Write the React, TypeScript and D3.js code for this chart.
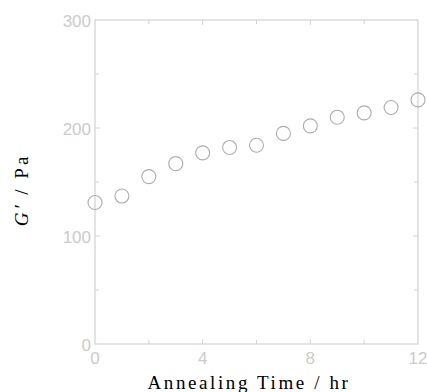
import React, { useEffect, useRef } from 'react';
import * as d3 from 'd3';

// annealing time in hours
const hours = [0, 1, 2, 3, 4, 5, 6, 7, 8, 9, 10, 11, 12];
// storage modulus G' in Pa
const modulus = [131, 137, 155, 167, 177, 182, 184, 195, 202, 210, 214, 219, 226];
const xTicks = [0, 4, 8, 12];
const yTicks = [0, 100, 200, 300];

export default function App() {
  const ref = useRef<SVGSVGElement>(null);

  useEffect(() => {
    const W = 427;
    const H = 392;
    const margin = { top: 20, right: 9, bottom: 48, left: 95 };
    const width = W - margin.left - margin.right;
    const height = H - margin.top - margin.bottom;

    const root = d3.select(ref.current);
    root.selectAll('*').remove();

    const g = root.append('g').attr('transform', `translate(${margin.left},${margin.top})`);

    const x = d3.scaleLinear().domain([0, 12]).range([0, width]);
    const y = d3.scaleLinear().domain([0, 300]).range([height, 0]);

    const axisColor = '#d2d2d2';
    const labelColor = '#cbcbcb';

    // frame
    g.append('rect')
      .attr('width', width)
      .attr('height', height)
      .attr('fill', 'none')
      .attr('stroke', axisColor)
      .attr('stroke-width', 1.2);

    // inward ticks on all four sides, every 2 hr and every 50 Pa
    const xt = d3.range(2, 12, 2);
    const yt = d3.range(50, 300, 50);
    xt.forEach((v) => {
      const len = v % 4 === 0 ? 5 : 4;
      g.append('line').attr('x1', x(v)).attr('x2', x(v)).attr('y1', height).attr('y2', height - len).attr('stroke', axisColor);
      g.append('line').attr('x1', x(v)).attr('x2', x(v)).attr('y1', 0).attr('y2', len).attr('stroke', axisColor);
    });
    yt.forEach((v) => {
      const len = v % 100 === 0 ? 5 : 4;
      g.append('line').attr('x1', 0).attr('x2', len).attr('y1', y(v)).attr('y2', y(v)).attr('stroke', axisColor);
      g.append('line').attr('x1', width).attr('x2', width - len).attr('y1', y(v)).attr('y2', y(v)).attr('stroke', axisColor);
    });

    // tick labels
    g.selectAll('.xl')
      .data(xTicks)
      .enter()
      .append('text')
      .attr('x', (d) => x(d))
      .attr('y', height + 20)
      .attr('text-anchor', 'middle')
      .attr('font-family', 'Liberation Sans, Arial, sans-serif')
      .attr('font-size', 17)
      .attr('fill', labelColor)
      .text((d) => d);

    g.selectAll('.yl')
      .data(yTicks)
      .enter()
      .append('text')
      .attr('x', -4)
      .attr('y', (d) => y(d) + 7)
      .attr('text-anchor', 'end')
      .attr('font-family', 'Liberation Sans, Arial, sans-serif')
      .attr('font-size', 17)
      .attr('fill', labelColor)
      .text((d) => d);

    // data points
    g.selectAll('.pt')
      .data(hours)
      .enter()
      .append('circle')
      .attr('cx', (d) => x(d))
      .attr('cy', (d, i) => y(modulus[i]))
      .attr('r', 7)
      .attr('fill', 'none')
      .attr('stroke', '#adadad')
      .attr('stroke-width', 1.1);

    // axis titles
    root.append('text')
      .attr('x', 249)
      .attr('y', 389)
      .attr('text-anchor', 'middle')
      .attr('font-family', 'Liberation Serif, Times New Roman, serif')
      .attr('font-size', 19)
      .attr('letter-spacing', 2.6)
      .attr('fill', '#000')
      .text('Annealing Time / hr');

    const yl = root.append('text')
      .attr('transform', `translate(28,190) rotate(-90)`)
      .attr('text-anchor', 'middle')
      .attr('font-family', 'Liberation Serif, Times New Roman, serif')
      .attr('font-size', 19)
      .attr('letter-spacing', 3)
      .attr('fill', '#000');
    yl.append('tspan').attr('font-style', 'italic').text('G\u2032');
    yl.append('tspan').text(' / Pa');
  }, []);

  return (
    <svg
      ref={ref}
      width={427}
      height={392}
      style={{ position: 'absolute', left: 0, top: 0, background: '#fff' }}
    />
  );
}
